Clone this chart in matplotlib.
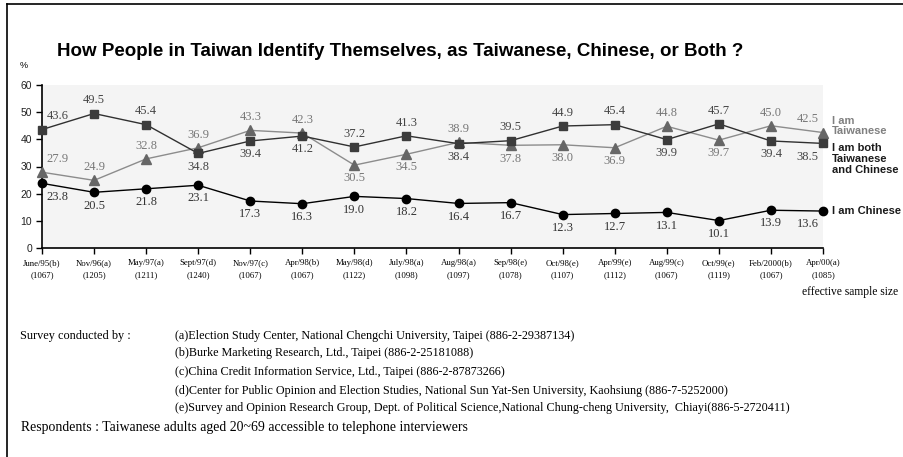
import matplotlib.pyplot as plt
from matplotlib.lines import Line2D

# survey waves, with the organisation code and effective sample size
waves = ['June/95(b)', 'Nov/96(a)', 'May/97(a)', 'Sept/97(d)', 'Nov/97(c)', 'Apr/98(b)',
         'May/98(d)', 'July/98(a)', 'Aug/98(a)', 'Sep/98(e)', 'Oct/98(e)', 'Apr/99(e)',
         'Aug/99(c)', 'Oct/99(e)', 'Feb/2000(b)', 'Apr/00(a)']
samples = [1067, 1205, 1211, 1240, 1067, 1067, 1122, 1098, 1097, 1078, 1107, 1112,
           1067, 1119, 1067, 1085]

taiwanese = [27.9, 24.9, 32.8, 36.9, 43.3, 42.3, 30.5, 34.5, 38.9, 37.8, 38.0, 36.9,
             44.8, 39.7, 45.0, 42.5]
both = [43.6, 49.5, 45.4, 34.8, 39.4, 41.2, 37.2, 41.3, 38.4, 39.5, 44.9, 45.4,
        39.9, 45.7, 39.4, 38.5]
chinese = [23.8, 20.5, 21.8, 23.1, 17.3, 16.3, 19.0, 18.2, 16.4, 16.7, 12.3, 12.7,
           13.1, 10.1, 13.9, 13.6]

sources = [
    '(a)Election Study Center, National Chengchi University, Taipei (886-2-29387134)',
    '(b)Burke Marketing Research, Ltd., Taipei (886-2-25181088)',
    '(c)China Credit Information Service, Ltd., Taipei (886-2-87873266)',
    '(d)Center for Public Opinion and Election Studies, National Sun Yat-Sen University, Kaohsiung (886-7-5252000)',
    '(e)Survey and Opinion Research Group, Dept. of Political Science,National Chung-cheng University,  Chiayi(886-5-2720411)',
]

W, H = 904, 457
fig = plt.figure(figsize=(W / 100, H / 100), dpi=100)
fig.patch.set_facecolor('white')

# frame around the page
fig.add_artist(Line2D([7 / W, 7 / W], [0, 1 - 4 / H], color='black', lw=1.2))
fig.add_artist(Line2D([7 / W, 1], [1 - 4 / H, 1 - 4 / H], color='black', lw=1.2))

ax = fig.add_axes([42 / W, 1 - 248 / H, (823 - 42) / W, (248 - 85) / H])
ax.set_facecolor('#f4f4f4')
x = list(range(len(waves)))

ax.plot(x, taiwanese, color='#8c8c8c', lw=1.0, marker='^', ms=6.5,
        mfc='#666666', mec='#666666', zorder=3, clip_on=False)
ax.plot(x, both, color='#303030', lw=1.0, marker='s', ms=5.5,
        mfc='#3c3c3c', mec='#3c3c3c', zorder=4, clip_on=False)
ax.plot(x, chinese, color='black', lw=1.0, marker='o', ms=6,
        mfc='black', mec='black', zorder=4, clip_on=False)

ax.set_xlim(0, len(waves) - 1)
ax.set_ylim(0, 60)
ax.set_yticks(range(0, 61, 10))
ax.set_xticks(x)
ax.set_xticklabels([f'{w}\n({n})' for w, n in zip(waves, samples)],
                   family='Liberation Serif', fontsize=6.3, linespacing=1.6)
ax.tick_params(axis='x', length=4, width=1, pad=4, color='black')
ax.tick_params(axis='y', length=4, width=1, pad=3, labelsize=7.5, labelcolor='#222222')
for lab in ax.get_yticklabels():
    lab.set_family('Liberation Sans')
for side in ('top', 'right'):
    ax.spines[side].set_visible(False)
for side in ('left', 'bottom'):
    ax.spines[side].set_linewidth(1.2)


def put(i, v, up, color):
    dx = 0
    if i == 0:
        dx = 11
    elif i == len(waves) - 1:
        dx = -11
    dy = 9.5 if up else -9.5
    ax.annotate(f'{v:.1f}', (i, v), xytext=(dx, dy), textcoords='offset points',
                ha='center', va='center', family='Liberation Serif', fontsize=9,
                color=color, zorder=5, annotation_clip=False)


for i in x:
    t, b = taiwanese[i], both[i]
    if b - t > 10:
        put(i, b, True, '#444444')
        put(i, t, True, '#777777')
    elif t >= b:
        put(i, t, True, '#777777')
        put(i, b, False, '#444444')
    else:
        put(i, b, True, '#444444')
        put(i, t, False, '#777777')
    put(i, chinese[i], False, '#333333')

# series names at the right end
fig.text(832 / W, 1 - 126 / H, 'I am\nTaiwanese', family='Liberation Sans', weight='bold',
         fontsize=8, color='#808080', va='center', linespacing=1.1)
fig.text(832 / W, 1 - 159 / H, 'I am both\nTaiwanese\nand Chinese', family='Liberation Sans',
         weight='bold', fontsize=8, color='#1a1a1a', va='center', linespacing=1.1)
fig.text(832 / W, 1 - 211 / H, 'I am Chinese', family='Liberation Sans', weight='bold',
         fontsize=8, color='#1a1a1a', va='center')

fig.text(57 / W, 1 - 52 / H,
         'How People in Taiwan Identify Themselves, as Taiwanese, Chinese, or Both ?',
         family='Liberation Sans', weight='bold', fontsize=13.5, va='center')
fig.text(20 / W, 1 - 66 / H, '%', family='Liberation Sans', fontsize=6.5, va='center')
fig.text(898 / W, 1 - 292 / H, 'effective sample size', family='Liberation Serif',
         fontsize=8.3, va='center', ha='right')

fig.text(20 / W, 1 - 336 / H, 'Survey conducted by :', family='Liberation Serif',
         fontsize=8.8, va='center')
for s, yy in zip(sources, [336, 353, 372, 391, 408]):
    fig.text(175 / W, 1 - yy / H, s, family='Liberation Serif', fontsize=8.7, va='center')
fig.text(21 / W, 1 - 428 / H,
         'Respondents : Taiwanese adults aged 20~69 accessible to telephone interviewers',
         family='Liberation Serif', fontsize=9.9, va='center')

fig.savefig('out.png', dpi=100)
